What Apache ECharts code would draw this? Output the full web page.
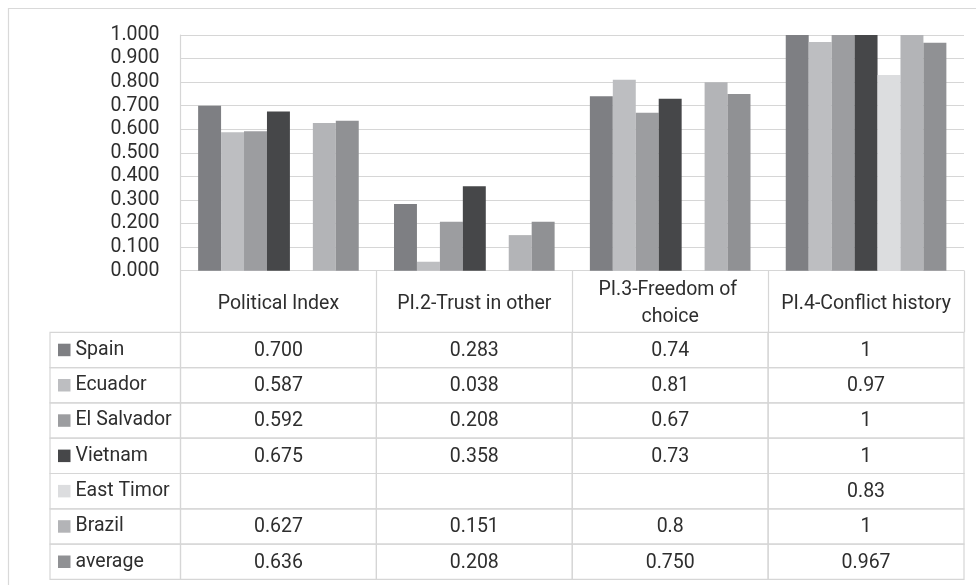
<!DOCTYPE html>
<html>
<head>
<meta charset="utf-8">
<script src="https://cdn.jsdelivr.net/npm/echarts@6/dist/echarts.min.js"></script>
<style>
  html, body { margin: 0; padding: 0; background: #ffffff; }
  #chart { width: 976px; height: 585px; }
</style>
</head>
<body>
<div id="chart"></div>
<script>
// Index components (x categories) and the countries compared (series / table rows)
const categories = ['Political Index', 'PI.2-Trust in other', 'PI.3-Freedom of choice', 'PI.4-Conflict history'];
const countries = ['Spain', 'Ecuador', 'El Salvador', 'Vietnam', 'East Timor', 'Brazil', 'average'];

// Values as written in the data table; bars are drawn from the same numbers
const spain      = ['0.700', '0.283', '0.74', '1'];
const ecuador    = ['0.587', '0.038', '0.81', '0.97'];
const elSalvador = ['0.592', '0.208', '0.67', '1'];
const vietnam    = ['0.675', '0.358', '0.73', '1'];
const eastTimor  = ['', '', '', '0.83'];
const brazil     = ['0.627', '0.151', '0.8', '1'];
const average    = ['0.636', '0.208', '0.750', '0.967'];

// Value axis ticks
const yMin = 0, yMax = 1, yStep = 0.1;

const rows = [spain, ecuador, elSalvador, vietnam, eastTimor, brazil, average];
const palette = ['#7e7f83', '#bdbec1', '#9c9da0', '#464749', '#dcdddf', '#b3b4b7', '#909194'];

const FONT = 'Roboto, "Noto Sans", sans-serif';
const FS = 19.5;
const TXT = '#2e2e2e';
const LINE = '#d6d6d6';

// layout
const plotLeft = 180.5, plotTop = 35, plotWidth = 783.5, plotHeight = 235.7;
const headerH = 61.6, rowH = 35.3;
const legendLeft = 50;
const tableTop = plotTop + plotHeight + headerH;

const toNum = s => (s === '' ? null : Number(s));

const chart = echarts.init(document.getElementById('chart'), null, { renderer: 'canvas' });

const barSeries = countries.map((name, i) => ({
  name,
  type: 'bar',
  xAxisIndex: 0,
  yAxisIndex: 0,
  barGap: '0%',
  barCategoryGap: '18%',
  itemStyle: { color: palette[i] },
  data: rows[i].map(toNum)
}));

const cellData = [];
rows.forEach((r, ri) => r.forEach((_, ci) => cellData.push([ci, ri])));

const legendRich = { t: { fontFamily: FONT, fontSize: FS, color: TXT, padding: [0, 0, 0, 5] } };
palette.forEach((c, i) => {
  legendRich['k' + i] = { width: 12.5, height: 12.5, backgroundColor: c, verticalAlign: 'middle' };
});

const option = {
  animation: false,
  backgroundColor: '#ffffff',
  graphic: [{
    type: 'rect',
    shape: { x: 8.5, y: 8.5, width: 1100, height: 700 },
    style: { fill: 'none', stroke: '#d9d9d9', lineWidth: 1.2 },
    silent: true, z: -10
  }],
  grid: [
    { left: plotLeft, top: plotTop, width: plotWidth, height: plotHeight, containLabel: false },
    { left: plotLeft, top: tableTop, width: plotWidth, height: rowH * rows.length, containLabel: false }
  ],
  xAxis: [
    {
      type: 'category', gridIndex: 0, data: categories,
      axisLine: { show: true, lineStyle: { color: LINE, width: 1.2 } },
      axisTick: { show: true, length: headerH, alignWithLabel: false, lineStyle: { color: LINE, width: 1.2 } },
      axisLabel: {
        interval: 0, margin: headerH / 2 + 2.5, verticalAlign: 'middle',
        width: 188, overflow: 'break', lineHeight: 27,
        fontFamily: FONT, fontSize: FS, color: TXT
      },
      splitLine: { show: false }
    },
    {
      type: 'category', gridIndex: 1, data: categories, show: false
    }
  ],
  yAxis: [
    {
      type: 'value', gridIndex: 0, min: yMin, max: yMax, interval: yStep,
      axisLine: { show: true, lineStyle: { color: LINE, width: 1.2 } },
      axisTick: { show: false },
      axisLabel: {
        margin: 21, fontFamily: FONT, fontSize: FS, color: TXT,
        formatter: v => v.toFixed(3)
      },
      splitLine: { show: true, lineStyle: { color: LINE, width: 1.2 } }
    },
    {
      type: 'category', gridIndex: 1, data: countries, inverse: true,
      axisLine: { show: false }, axisTick: { show: false },
      splitLine: { show: false },
      axisLabel: {
        align: 'left', margin: plotLeft - 58,
        formatter: (v, i) => '{k' + i + '|}{t|' + v + '}',
        rich: legendRich
      }
    }
  ],
  series: barSeries.concat([{
    type: 'custom',
    name: 'table',
    xAxisIndex: 1,
    yAxisIndex: 1,
    z: 1,
    clip: false,
    data: cellData,
    renderItem(params, api) {
      const ci = api.value(0), ri = api.value(1);
      const c = api.coord([ci, ri]);
      const s = api.size([1, 1]);
      const x = c[0] - s[0] / 2, y = c[1] - s[1] / 2;
      const children = [
        { type: 'rect', shape: { x, y, width: s[0], height: s[1] },
          style: { fill: 'none', stroke: LINE, lineWidth: 1.2 } },
        { type: 'text', style: { x: c[0], y: c[1] + 1, text: rows[ri][ci], align: 'center', verticalAlign: 'middle',
          fontFamily: FONT, fontSize: FS, fill: TXT } }
      ];
      if (ci === 0) {
        children.push({ type: 'rect', shape: { x: legendLeft, y, width: x - legendLeft, height: s[1] },
          style: { fill: 'none', stroke: LINE, lineWidth: 1.2 } });
      }
      return { type: 'group', children };
    }
  }])
};

chart.setOption(option);
</script>
</body>
</html>
